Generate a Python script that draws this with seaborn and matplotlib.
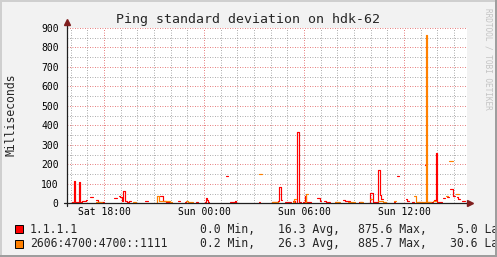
import numpy as np
import pandas as pd
import matplotlib
matplotlib.use("Agg")
import matplotlib.pyplot as plt
import seaborn as sns
from matplotlib.patches import Rectangle

nan = np.nan

# ---------------- data ----------------
title = "Ping standard deviation on hdk-62"
y_label = "Milliseconds"
watermark = "RRDTOOL / TOBI OETIKER"
series_names = ["1.1.1.1", "2606:4700:4700::1111"]
series_colors = ["#ff0000", "#ff8000"]
x_tick_hours = [18, 24, 30, 36]
x_tick_labels = ["Sat 18:00", "Sun 00:00", "Sun 06:00", "Sun 12:00"]
y_ticks = [0, 100, 200, 300, 400, 500, 600, 700, 800, 900]
stat_min = [0.0, 0.2]
stat_avg = [16.3, 26.3]
stat_max = [875.6, 885.7]
stat_last = [5.0, 30.6]

# hours since Sat 00:00 (step-wise samples, NaN = unknown)
red_t = [15.78, 15.96, 16.10, 16.18, 16.29, 16.40, 16.48, 16.58, 16.68, 16.80, 16.92, 16.98,
         17.16, 17.34, 17.52, 17.64, 17.76, 17.88, 18.00,
         18.58, 18.78, 18.88, 18.98, 19.06, 19.12, 19.24, 19.38, 19.48, 19.62,
         20.49, 20.64, 21.36, 21.52, 21.60, 21.72, 21.96, 22.46, 22.56, 22.86, 22.92,
         23.52, 23.64, 24.04, 24.10, 24.18, 24.26, 24.32, 25.32, 25.46, 25.56, 25.80,
         25.86, 25.95, 26.10, 27.30, 27.36, 28.08, 28.44, 28.52, 28.62, 28.71, 28.84,
         29.22, 29.34, 29.45, 29.60, 29.70, 29.80, 29.94, 30.06, 30.15, 30.30, 30.40,
         30.81, 30.94, 31.05, 31.20, 31.32, 31.44, 31.56, 31.86, 32.00, 32.16, 32.36,
         32.46, 32.76, 33.30, 33.48, 33.82, 33.96, 34.12, 34.42, 34.56, 34.62, 34.72,
         35.40, 35.48, 35.56, 35.68, 36.12, 36.20, 36.30, 36.48, 36.60, 36.84, 37.10,
         37.24, 37.32, 37.38, 37.74, 37.80, 37.90, 38.00, 38.30, 38.36, 38.46, 38.61,
         38.70, 38.76, 38.92, 39.05, 39.16, 39.26, 39.36, 39.51, 39.66, 39.78]
red_v = [nan, 3, 5, 115, 5, 6, 108, 6, 10, 14, 18, nan,
         30, nan, 15, 8, nan, 8, nan,
         25, nan, 36, 30, 12, 63, 10, 5, 10, nan,
         12, nan, 38, 10, 12, 8, nan, 12, nan, 5, nan,
         7, nan, 5, 27, 17, 5, nan, 140, nan, 7, 5,
         13, 4, nan, 5, nan, 6, 13, 82, 17, nan, 7,
         nan, 12, 3, 367, 5, nan, 6, 37, 5, 7, nan,
         25, 13, nan, 13, 7, 5, nan, 6, 4, nan, 15,
         10, nan, 6, nan, 4, 52, 5, 172, 41, 20, nan,
         5, nan, 140, nan, 20, 10, nan, 6, nan, 7, nan,
         198, nan, 5, nan, 17, 258, 5, nan, 26, nan, 31,
         nan, 74, 37, nan, 34, 22, nan, 10, nan, nan]

orange_t = [15.78, 16.05, 16.25, 17.52, 17.88, 19.74, 19.92, 21.10, 21.16, 21.30, 21.60,
            21.96, 22.10, 22.92, 23.04, 23.34, 27.30, 27.48, 28.08, 28.44, 29.34, 29.42,
            29.50, 30.06, 30.15, 30.24, 31.86, 32.16, 32.64, 33.06, 33.36, 33.54, 33.96,
            34.10, 34.44, 34.72, 34.90, 35.42, 35.54, 36.60, 36.72, 36.84, 37.32, 37.38,
            37.60, 37.76, 37.92, 38.54, 38.66, 38.72, 38.96, 39.14, 39.28, 39.78]
orange_v = [nan, 4, nan, 8, nan, 7, nan, 3, 37, 10, 12,
            6, nan, 12, 7, nan, 150, nan, 6, nan, 5, 20,
            nan, 5, 48, nan, 6, nan, 8, nan, 7, nan, 20,
            nan, 12, 7, nan, 12, nan, 39, 6, 5, 862, 5,
            nan, 13, nan, 37, nan, 217, nan, 48, nan, nan]


def segments(ts, vs):
    segs, cur = [], []
    for t, v in zip(ts, vs):
        if np.isnan(v):
            if cur:
                cur.append((t, cur[-1][1]))
                segs.append(cur)
                cur = []
        else:
            cur.append((t, v))
    if cur:
        segs.append(cur)
    return segs


rows = []
for name, ts, vs in [(series_names[0], red_t, red_v), (series_names[1], orange_t, orange_v)]:
    for k, seg in enumerate(segments(ts, vs)):
        for t, v in seg:
            rows.append({"t": t, "v": v, "series": name, "seg": f"{name}#{k:03d}"})
df = pd.DataFrame(rows)

# ---------------- style ----------------
sns.set_theme(style="white")
plt.rcParams["font.family"] = ["DejaVu Sans Mono", "DejaVu Sans"]

W, H = 497, 257
fig = plt.figure(figsize=(W / 100, H / 100), dpi=100)
fig.patch.set_facecolor("#f2f2f2")


def fx(x):
    return x / W


def fy(y):
    return 1 - y / H


x0, x1 = 15.78, 39.78
ax = fig.add_axes([fx(67), fy(203.3), fx(467) - fx(67), fy(28) - fy(203.3)])
ax.set_facecolor("white")
ax.set_xlim(x0, x1)
ax.set_ylim(0, 900)
for s in ax.spines.values():
    s.set_visible(False)

ax.set_xticks(x_tick_hours)
ax.set_xticklabels(x_tick_labels)
ax.set_xticks(list(range(16, 40)), minor=True)
ax.set_yticks(y_ticks)
ax.set_yticklabels([str(v) for v in y_ticks])
ax.set_yticks(list(range(50, 900, 100)), minor=True)
ax.grid(which="minor", color=(0.56, 0.56, 0.56, 0.5), linestyle=(0, (1, 2)), lw=0.6)
ax.grid(which="major", color=(0.87, 0.31, 0.31, 0.5), linestyle=(0, (1, 2)), lw=0.6)
ax.set_axisbelow(True)
axis_col = "#1f1f1f"
ax.tick_params(which="major", direction="inout", length=3, width=0.7, color=axis_col,
               labelsize=7, labelcolor="black")
ax.tick_params(which="minor", direction="inout", length=2, width=0.7, color=axis_col)
ax.tick_params(axis="y", pad=4.5)
ax.tick_params(axis="x", pad=1.5)

sns.lineplot(data=df, x="t", y="v", hue="series", units="seg", estimator=None,
             hue_order=series_names, palette=dict(zip(series_names, series_colors)),
             drawstyle="steps-post", lw=0.85, sort=False, legend=False, ax=ax)
ax.set_xlabel("")
ax.set_ylabel("")

# axes with arrows
arrow_col = "#801f1f"
ax.plot([x0 - 0.18, 39.93], [0, 0], color=axis_col, lw=0.9, clip_on=False, zorder=6)
ax.plot([x0, x0], [-15, 925], color=axis_col, lw=0.9, clip_on=False, zorder=6)
ax.plot([39.97], [0], marker=">", color=arrow_col, ms=4, clip_on=False, zorder=7)
ax.plot([x0], [930], marker="^", color=arrow_col, ms=4, clip_on=False, zorder=7)

# texts
fig.text(fx(248), fy(19), title, ha="center", va="center", fontsize=9.5)
fig.text(fx(11), fy(114.5), y_label, ha="center", va="center", rotation=90, fontsize=8.3)
fig.text(fx(488), fy(58.5), watermark, ha="center", va="center", rotation=270,
         fontsize=5.6, color="#c4c4c4")

row_y = [229.3, 243.5]
last_x = [457.3, 450.5]
for i in range(2):
    fig.patches.append(Rectangle((fx(15), fy(row_y[i] + 4)), fx(8), 8 / H,
                                 facecolor=series_colors[i], edgecolor="black", lw=0.7,
                                 transform=fig.transFigure, figure=fig))
    fig.text(fx(30), fy(row_y[i]), series_names[i], ha="left", va="center", fontsize=8.3)
    fig.text(fx(200), fy(row_y[i]), f"{stat_min[i]:.1f} Min,", ha="left", va="center", fontsize=8.3)
    fig.text(fx(278.5), fy(row_y[i]), f"{stat_avg[i]:.1f} Avg,", ha="left", va="center", fontsize=8.3)
    fig.text(fx(357.7), fy(row_y[i]), f"{stat_max[i]:.1f} Max,", ha="left", va="center", fontsize=8.3)
    fig.text(fx(last_x[i]), fy(row_y[i]), f"{stat_last[i]:.1f} Last", ha="left", va="center",
             fontsize=8.3)

# 3D frame
for (x, y, w, h, c) in [(0, 0, W, 2, "#cfcfcf"), (0, 0, 2, H, "#cfcfcf"),
                        (0, H - 2, W, 2, "#9e9e9e"), (W - 2, 0, 2, H, "#9e9e9e")]:
    fig.patches.append(Rectangle((fx(x), fy(y + h)), w / W, h / H, facecolor=c,
                                 edgecolor="none", transform=fig.transFigure, figure=fig,
                                 zorder=10))

fig.savefig("out.png", dpi=100, facecolor=fig.get_facecolor())
